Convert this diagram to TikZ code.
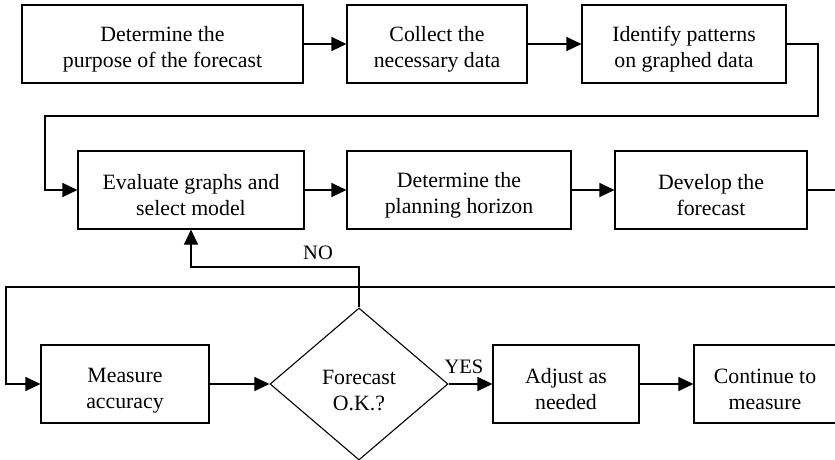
\documentclass[tikz,border=0pt]{standalone}
\usepackage{fontspec}
\setmainfont{Liberation Serif}
\usetikzlibrary{arrows.meta,shapes.geometric}
\newcommand{\tg}{\rule{0pt}{26pt}}
\begin{document}
\begin{tikzpicture}[x=1pt,y=-1pt,
  box/.style={draw, line width=1.1pt, inner sep=0pt, align=center, minimum height=78pt,
    font=\fontsize{21.8}{26}\selectfont},
  dia/.style={draw, diamond, line width=1.1pt, inner sep=0pt, align=center,
    minimum width=178pt, minimum height=152pt, font=\fontsize{21.8}{26}\selectfont},
  arr/.style={-{Triangle[length=15pt,width=14pt]}, line width=1.1pt},
  lbl/.style={inner sep=0pt, font=\fontsize{20.5}{24}\selectfont}]
\useasboundingbox (0,0) rectangle (835,459);
\clip (0,0) rectangle (835,459);
\node[box, minimum width=281pt] (b1) at (162.5,44) {\tg Determine the\\purpose of the forecast};
\node[box, minimum width=180pt] (b2) at (437,44) {\tg Collect the\\necessary data};
\node[box, minimum width=204pt] (b3) at (684,44) {\tg Identify patterns\\on graphed data};
\node[box, minimum width=226pt] (b4) at (191,190) {\tg Evaluate graphs and\\select model};
\node[box, minimum width=224pt] (b5) at (459,190) {\tg Determine the\\planning horizon};
\node[box, minimum width=192pt] (b6) at (711,190) {\tg Develop the\\forecast};
\node[box, minimum width=168pt] (m) at (125,384) {\rule{0pt}{28pt}Measure\\accuracy};
\node[dia] (d) at (359,384) {\rule{0pt}{28pt}Forecast\\O.K.?};
\node[box, minimum width=146pt] (adj) at (566,384) {\tg Adjust as\\needed};
\node[box, minimum width=142pt] (cont) at (765,384) {\tg Continue to\\measure};
\coordinate (r1) at (818,44);
\coordinate (r2) at (818,116);
\coordinate (l1) at (45,116);
\coordinate (e1) at (850,190);
\coordinate (e2) at (850,287);
\coordinate (l2) at (6,287);
\coordinate (n1) at (359,267);
\draw[arr] (b1) -- (b2);
\draw[arr] (b2) -- (b3);
\draw[arr] (b3.east) -- (r1) -- (r2) -- (l1) |- (b4.west);
\draw[arr] (b4) -- (b5);
\draw[arr] (b5) -- (b6);
\draw[arr] (b6.east) -- (e1) -- (e2) -- (l2) |- (m.west);
\draw[arr] (m) -- (d);
\draw[arr] (d.east) -- (adj.west);
\draw[arr] (adj) -- (cont);
\draw[arr] (d.north) -- (n1) -| (b4.south);
\node[lbl] (no) at (318,253) {NO};
\node[lbl] (yes) at (464,367) {YES};
\end{tikzpicture}
\end{document}
